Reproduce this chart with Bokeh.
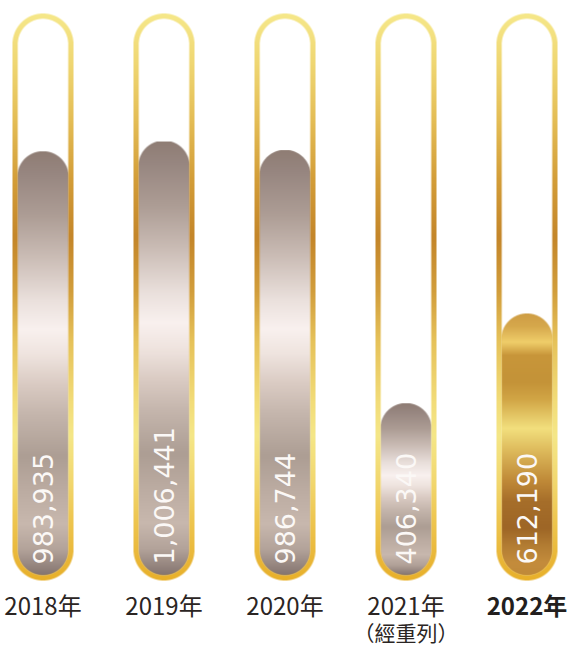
import math
import numpy as np
from bokeh.plotting import figure
from bokeh.models import Range1d
from bokeh.embed import file_html
from bokeh.resources import INLINE
from bokeh.core.properties import value

# ---------------- data ----------------
years = ["2018年", "2019年", "2020年", "2021年", "2022年"]
notes = ["", "", "", "（經重列）", ""]
values = [983935, 1006441, 986744, 406340, 612190]
value_labels = ["983,935", "1,006,441", "986,744", "406,340", "612,190"]
highlight = [False, False, False, False, True]
TUBE_MAX = 1_300_000

# ---------------- geometry / style ----------------
W, H = 570, 648
PX_X = 121.0                 # pixels per category step
X0_PX = 42.5                 # pixel centre of the first tube
PX_Y = 567.0 / TUBE_MAX      # pixels per unit value
Y0_PX = 580.0                # pixel row (from top) of value 0
TW = 61                      # tube outer width, px
STROKE = 5.3
SS = 4

x_start = -X0_PX / PX_X
y_start = -(H - Y0_PX) / PX_Y
y_end = Y0_PX / PX_Y

tube_stops = [(0.00, "#f6e88a"), (0.083, "#f0d874"), (0.19, "#e4bd55"),
              (0.295, "#d39d38"), (0.395, "#c4862a"), (0.49, "#d29e3c"),
              (0.577, "#e6c25a"), (0.683, "#f2dc78"), (0.744, "#f5e788"),
              (0.824, "#f2d870"), (0.894, "#eec650"), (0.956, "#eab83a"),
              (1.00, "#e8b02a")]
grey_stops = [(0.00, "#8f7d74"), (0.05, "#978680"), (0.15, "#ad9d95"),
              (0.25, "#cbbdb6"), (0.35, "#eae0dc"), (0.42, "#f9f1ef"),
              (0.48, "#efe4df"), (0.55, "#dacbc3"), (0.62, "#c5b6ad"),
              (0.72, "#ad9e94"), (0.80, "#bcaca2"), (0.88, "#c8b8ae"),
              (0.94, "#b3a39a"), (1.00, "#857570")]
gold_stops = [(0.00, "#cf9e45"), (0.05, "#d6a84c"), (0.11, "#f0ce6a"),
              (0.16, "#c8963a"), (0.26, "#c49338"), (0.33, "#d2a646"),
              (0.44, "#f3e07e"), (0.53, "#dcb85a"), (0.64, "#c08a38"),
              (0.72, "#a66e2a"), (0.82, "#9e6626"), (0.89, "#b47e34"),
              (0.95, "#c48c3c"), (1.00, "#c08a3a")]


def hex_rgb(h):
    h = h.lstrip("#")
    return [int(h[i:i + 2], 16) for i in (0, 2, 4)]


def gradient(stops, t):
    ts = [s[0] for s in stops]
    cols = np.array([hex_rgb(s[1]) for s in stops], dtype=float)
    return np.stack([np.interp(t, ts, cols[:, k]) for k in range(3)], axis=-1)


def capsule_cov(cols, rows, cx, y_lo, y_hi, rad):
    xs = (np.arange(cols * SS) + 0.5) / SS
    ys = (np.arange(rows * SS) + 0.5) / SS
    X, Y = np.meshgrid(xs, ys)
    Yc = np.clip(Y, y_lo, max(y_lo, y_hi))
    d = np.hypot(X - cx, Y - Yc)
    inside = (d <= rad).astype(float)
    return inside.reshape(rows, SS, cols, SS).mean(axis=(1, 3))


def to_rgba(rgb_rows, cov):
    rows, cols = cov.shape
    img = np.zeros((rows, cols, 4), dtype=np.uint8)
    img[:, :, :3] = np.clip(rgb_rows[:, None, :], 0, 255).astype(np.uint8)
    img[:, :, 3] = np.clip(cov * 255, 0, 255).astype(np.uint8)
    return img.view(dtype=np.uint32).reshape(rows, cols)


p = figure(width=W, height=H, x_range=Range1d(x_start, x_start + W / PX_X),
           y_range=Range1d(y_start, y_end), output_backend="svg",
           toolbar_location=None, x_axis_location=None, y_axis_location=None,
           min_border=0)
p.grid.visible = False
p.outline_line_color = None
p.background_fill_color = "white"
p.border_fill_color = "white"

R = TW / 2.0
rf = R - STROKE
tube_rows = int(round(TUBE_MAX * PX_Y))
yc = np.arange(tube_rows) + 0.5
t_tube = (tube_rows - yc) / tube_rows
ring = capsule_cov(TW, tube_rows, R, R, tube_rows - R, R) - \
    capsule_cov(TW, tube_rows, R, R, tube_rows - R, rf)
tube_img = to_rgba(gradient(tube_stops, t_tube), ring)

for i, v in enumerate(values):
    h = v * PX_Y
    rows = int(round(h))
    y = np.arange(rows) + 0.5
    t = np.clip((h - y) / (h - STROKE), 0, 1)
    stops = gold_stops if highlight[i] else grey_stops
    cov = capsule_cov(TW, rows, R, R, h - rf - 0.6, rf + 0.6)
    fimg = to_rgba(gradient(stops, t), cov)
    p.image_rgba(image=[fimg], x=i - R / PX_X, y=0, dw=TW / PX_X, dh=v)
    p.image_rgba(image=[tube_img], x=i - R / PX_X, y=0, dw=TW / PX_X, dh=TUBE_MAX)

xs = list(range(len(values)))
p.text(x=xs, y=[16 / PX_Y] * len(xs), text=value_labels, angle=math.pi / 2,
       text_align="left", text_baseline="middle", text_color="#fbf8f6",
       text_font=value("DejaVu Sans"), text_font_size="27px",
       text_font_style="normal")

reg = [k for k in xs if not highlight[k]]
bold = [k for k in xs if highlight[k]]
p.text(x=reg, y=[-24 / PX_Y] * len(reg), text=[years[k] for k in reg],
       text_align="center", text_baseline="middle", text_color="#2b2523",
       text_font=value("Noto Sans CJK TC"), text_font_size="24px")
p.text(x=bold, y=[-24 / PX_Y] * len(bold), text=[years[k] for k in bold],
       text_align="center", text_baseline="middle", text_color="#231f1e",
       text_font=value("Noto Sans CJK TC"), text_font_size="24px",
       text_font_style="bold")
nk = [k for k in xs if notes[k]]
p.text(x=nk, y=[-51 / PX_Y] * len(nk), text=[notes[k] for k in nk],
       text_align="center", text_baseline="middle", text_color="#2b2523",
       text_font=value("Noto Sans CJK TC"), text_font_size="21px")

open("out.html", "w").write(file_html(p, INLINE))
